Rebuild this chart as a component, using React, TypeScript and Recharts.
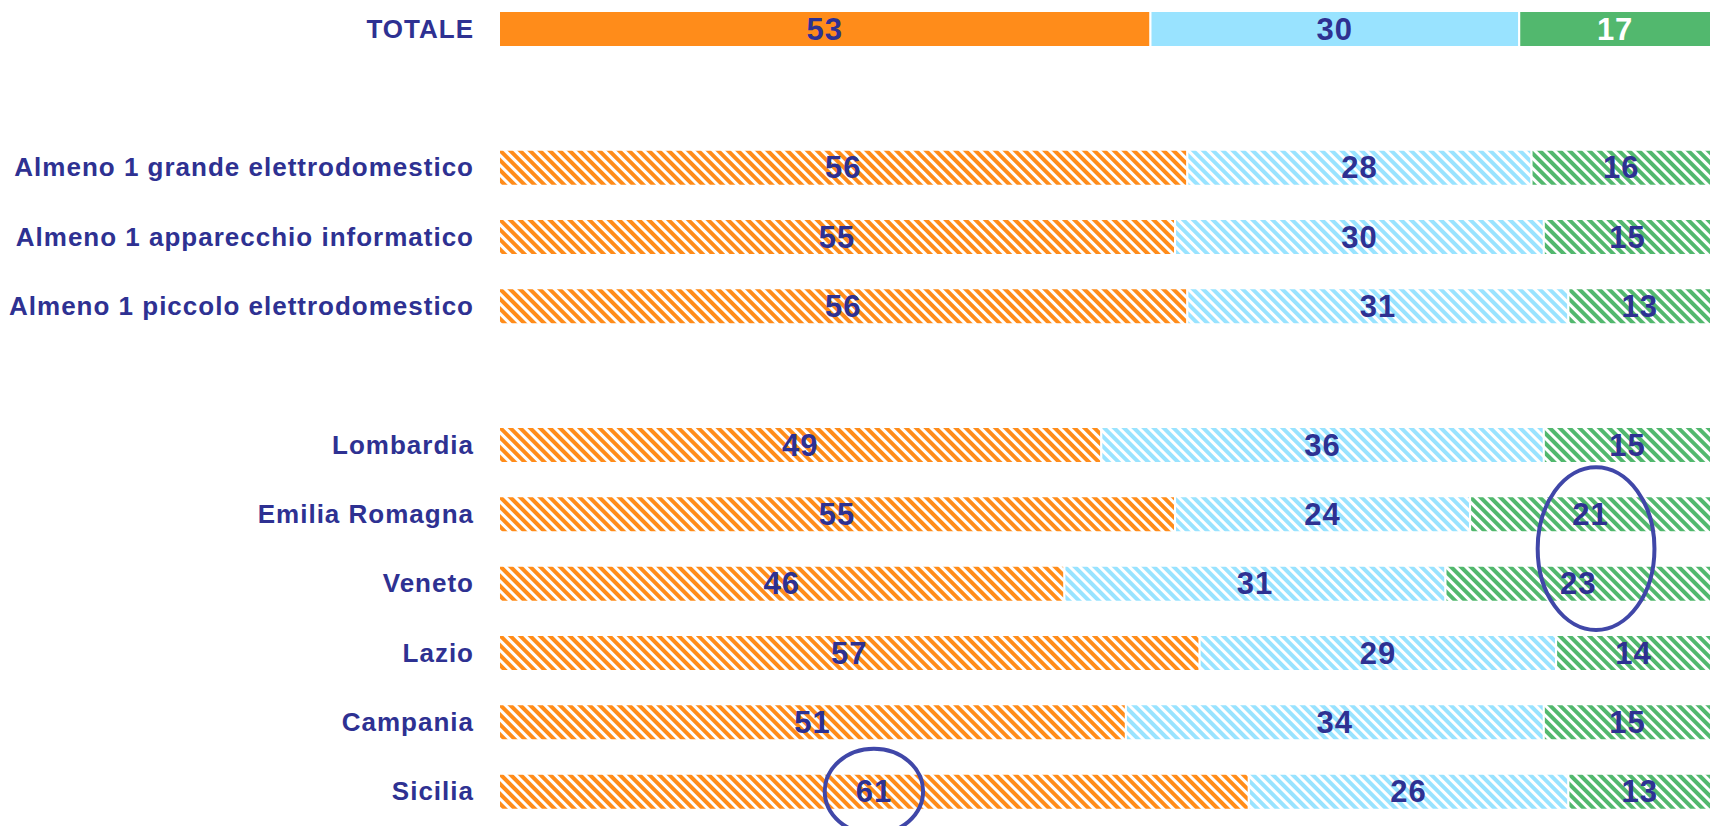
import { Bar, BarChart, Cell, LabelList, ReferenceArea, XAxis, YAxis } from "recharts";

const categories = [
  "TOTALE",
  "",
  "Almeno 1 grande elettrodomestico",
  "Almeno 1 apparecchio informatico",
  "Almeno 1 piccolo elettrodomestico",
  " ",
  "Lombardia",
  "Emilia Romagna",
  "Veneto",
  "Lazio",
  "Campania",
  "Sicilia",
];
const orangeValues = [53, null, 56, 55, 56, null, 49, 55, 46, 57, 51, 61];
const blueValues = [30, null, 28, 30, 31, null, 36, 24, 31, 29, 34, 26];
const greenValues = [17, null, 16, 15, 13, null, 15, 21, 23, 14, 15, 13];

const rows = categories.map((name, i) => ({
  name,
  a: orangeValues[i],
  b: blueValues[i],
  c: greenValues[i],
}));

const navy = "#2E3192";
const font = "'Liberation Sans', Arial, sans-serif";

const series = [
  { key: "a", solid: "#FF8C1A", hatch: "url(#hatch-a)" },
  { key: "b", solid: "#99E3FF", hatch: "url(#hatch-b)" },
  { key: "c", solid: "#52B86E", hatch: "url(#hatch-c)" },
];

function CategoryTick(props: any) {
  const { x, y, payload } = props;
  return (
    <text
      x={x}
      y={y}
      textAnchor="end"
      dominantBaseline="central"
      fill={navy}
      fontSize={26}
      fontWeight={700}
      fontFamily={font}
      letterSpacing={1}
    >
      {payload.value}
    </text>
  );
}

function valueLabel(onSolidWhite: boolean) {
  return (props: any) => {
    const { x, y, width, height, value, index } = props;
    if (value == null) return null;
    const white = onSolidWhite && categories[index] === "TOTALE";
    return (
      <text
        x={Number(x) + Number(width) / 2}
        y={Number(y) + Number(height) / 2}
        textAnchor="middle"
        dominantBaseline="central"
        fill={white ? "#ffffff" : navy}
        fontSize={31}
        fontWeight={700}
        fontFamily={font}
        letterSpacing={1}
      >
        {value}
      </text>
    );
  };
}

function Ellipse(extra: number) {
  return (props: any) => {
    const { x, y, width, height } = props;
    return (
      <ellipse
        cx={x + width / 2}
        cy={y + height / 2}
        rx={width / 2}
        ry={height / 2 + extra}
        fill="none"
        stroke="#4047A8"
        strokeWidth={4}
      />
    );
  };
}

export default function App() {
  return (
    <div style={{ position: "absolute", left: 0, top: -6, width: 1711, height: 832 }}>
      <BarChart
        width={1711}
        height={832}
        data={rows}
        layout="vertical"
        margin={{ top: 0, right: 0, bottom: 0, left: 0 }}
      >
        <defs>
          {series.map((s) => (
            <pattern
              key={s.key}
              id={`hatch-${s.key}`}
              width={7}
              height={7}
              patternUnits="userSpaceOnUse"
              patternTransform="rotate(45)"
            >
              <rect width={7} height={7} fill="#ffffff" />
              <rect width={7} height={4} fill={s.solid} />
            </pattern>
          ))}
        </defs>
        <XAxis type="number" domain={[0, 98.6]} allowDataOverflow hide />
        <YAxis
          type="category"
          dataKey="name"
          width={499}
          axisLine={false}
          tickLine={false}
          tickSize={0}
          tickMargin={25}
          interval={0}
          tick={<CategoryTick />}
        />
        {series.map((s) => (
          <Bar
            key={s.key}
            dataKey={s.key}
            stackId="tot"
            barSize={36}
            stroke="#ffffff"
            strokeWidth={2}
            isAnimationActive={false}
          >
            {categories.map((name, i) => (
              <Cell key={i} fill={name === "TOTALE" ? s.solid : s.hatch} />
            ))}
            <LabelList dataKey={s.key} content={valueLabel(s.key === "c")} />
          </Bar>
        ))}
        <ReferenceArea
          x1={26.5}
          x2={34.5}
          y1="Sicilia"
          y2="Sicilia"
          shape={Ellipse(8)}
          zIndex={2500}
        />
        <ReferenceArea
          x1={84.5}
          x2={94}
          y1="Emilia Romagna"
          y2="Veneto"
          shape={Ellipse(12)}
          zIndex={2500}
        />
      </BarChart>
    </div>
  );
}
